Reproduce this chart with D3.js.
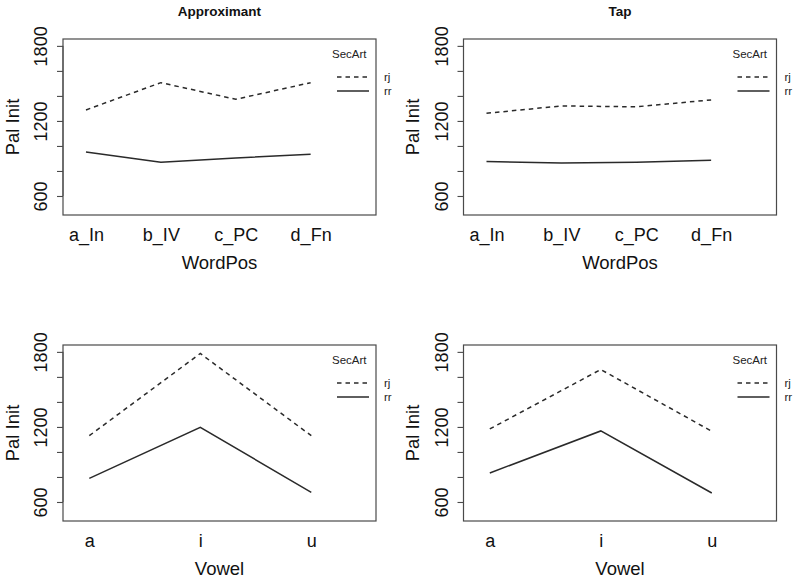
<!DOCTYPE html>
<html>
<head>
<meta charset="utf-8">
<script src="https://cdn.jsdelivr.net/npm/d3@7"></script>
<style>
  html, body { margin: 0; padding: 0; background: #fff; }
  svg { display: block; font-family: "Liberation Sans", Arial, sans-serif; }
</style>
</head>
<body>
<svg id="chart" width="800" height="581"></svg>
<script>
// ---- data ----
const wordPosLevels = ["a_In", "b_IV", "c_PC", "d_Fn"];
const vowelLevels = ["a", "i", "u"];
const traceLevels = ["rj", "rr"];
const approxWordPosRj = [1288, 1506, 1373, 1506];
const approxWordPosRr = [952, 869, 904, 933];
const tapWordPosRj = [1261, 1320, 1313, 1368];
const tapWordPosRr = [876, 864, 869, 885];
const approxVowelRj = [1130, 1787, 1130];
const approxVowelRr = [789, 1197, 677];
const tapVowelRj = [1184, 1659, 1165];
const tapVowelRr = [832, 1168, 672];
const yTicks = [600, 800, 1000, 1200, 1400, 1600, 1800];
const yTickLabels = [600, 1200, 1800];
const panelTitles = ["Approximant", "Tap", "", ""];
const xAxisTitles = ["WordPos", "WordPos", "Vowel", "Vowel"];
const yAxisTitle = "Pal Init";
const legendTitle = "SecArt";

const panels = [
  { title: panelTitles[0], xTitle: xAxisTitles[0], levels: wordPosLevels, rj: approxWordPosRj, rr: approxWordPosRr, left: 63, top: 39 },
  { title: panelTitles[1], xTitle: xAxisTitles[1], levels: wordPosLevels, rj: tapWordPosRj, rr: tapWordPosRr, left: 463.5, top: 39 },
  { title: panelTitles[2], xTitle: xAxisTitles[2], levels: vowelLevels, rj: approxVowelRj, rr: approxVowelRr, left: 63, top: 345 },
  { title: panelTitles[3], xTitle: xAxisTitles[3], levels: vowelLevels, rj: tapVowelRj, rr: tapVowelRr, left: 463.5, top: 345 }
];

const W = 313, H = 176;
const svg = d3.select("#chart");
const lineColor = "#2a2a2a";
const boxColor = "#4a4a4a";

panels.forEach(p => {
  const n = p.levels.length;
  const xDomain = n === 4 ? [0.693, 4.873] : [0.763, 3.583];
  const x = d3.scaleLinear().domain(xDomain).range([0, W]);
  const y = d3.scaleLinear().domain([448, 1855]).range([H, 0]);

  const g = svg.append("g").attr("transform", `translate(${p.left},${p.top})`);

  g.append("rect").attr("x", 0).attr("y", 0).attr("width", W).attr("height", H)
    .attr("fill", "none").attr("stroke", boxColor).attr("stroke-width", 1.2);

  const yAxis = d3.axisLeft(y).tickValues(yTicks).tickSize(6)
    .tickFormat(d => yTickLabels.includes(d) ? d : "");
  const ya = g.append("g").call(yAxis);
  ya.select(".domain").attr("stroke", boxColor).attr("d", `M0,${y(1800)}V${y(600)}`);
  ya.selectAll(".tick line").attr("stroke", boxColor).attr("stroke-width", 1.1);
  ya.selectAll(".tick text")
    .attr("font-size", 18).attr("fill", "#111")
    .attr("text-anchor", "middle")
    .attr("x", 0).attr("dy", null).attr("y", 0)
    .attr("transform", "translate(-16,0) rotate(-90)");

  const xa = d3.axisBottom(x).tickValues(d3.range(1, n + 1)).tickSize(0)
    .tickFormat(d => p.levels[d - 1]);
  const xg = g.append("g").attr("transform", `translate(0,${H})`).call(xa);
  xg.select(".domain").remove();
  xg.selectAll(".tick text").attr("font-size", 18).attr("fill", "#111")
    .attr("dy", null).attr("y", 26);

  g.append("text").attr("x", W / 2).attr("y", H + 54).attr("text-anchor", "middle")
    .attr("font-size", 18.5).attr("fill", "#111").text(p.xTitle);
  g.append("text").attr("transform", `translate(${-p.left + 18.5 + (p.left > 100 ? 400 : 0)},${H / 2}) rotate(-90)`)
    .attr("text-anchor", "middle").attr("font-size", 18.5).attr("fill", "#111").text(yAxisTitle);

  if (p.title) {
    g.append("text").attr("x", W / 2).attr("y", -23.5).attr("text-anchor", "middle")
      .attr("font-size", 13.5).attr("font-weight", "bold").attr("fill", "#111").text(p.title);
  }

  const line = d3.line().x((d, i) => x(i + 1)).y(d => y(d));
  [[p.rj, "4.5,4"], [p.rr, null]].forEach(([vals, dash]) => {
    g.append("path").datum(vals).attr("d", line)
      .attr("fill", "none").attr("stroke", lineColor).attr("stroke-width", 1.5)
      .attr("stroke-dasharray", dash);
  });

  const lg = g.append("g");
  lg.append("text").attr("x", 269).attr("y", 19).attr("font-size", 11.5).attr("fill", "#222").text(legendTitle);
  traceLevels.forEach((t, i) => {
    const ly = 38 + i * 14;
    lg.append("line").attr("x1", 274).attr("x2", 306).attr("y1", ly).attr("y2", ly)
      .attr("stroke", lineColor).attr("stroke-width", 1.5)
      .attr("stroke-dasharray", i === 0 ? "4.5,4" : null);
    lg.append("text").attr("x", 321).attr("y", ly + 4).attr("font-size", 11.5).attr("fill", "#222").text(t);
  });
});
</script>
</body>
</html>
